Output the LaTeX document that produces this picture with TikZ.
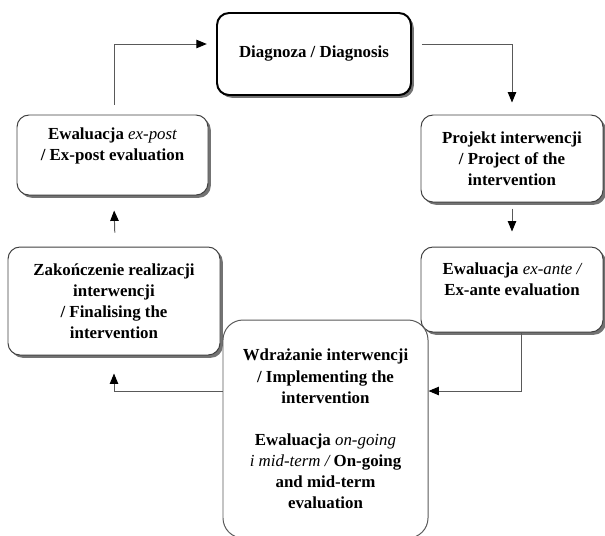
\documentclass[tikz,border=0pt]{standalone}
\usepackage{fontspec}
\setmainfont{Liberation Serif}
\usepackage{xcolor}
\usepackage{tikz}
\usetikzlibrary{arrows.meta,shadows}

\begin{document}
\begin{tikzpicture}[
    x=0.25mm, y=-0.25mm,
    stage/.style={
        rectangle,
        rounded corners=3mm,
        draw=black!75,
        fill=white,
        line width=0.7pt,
        inner sep=0pt,
        align=center,
        drop shadow={shadow xshift=0.7mm, shadow yshift=-0.7mm, fill=black!55, opacity=1},
        font=\fontsize{12}{15}\selectfont\bfseries
    },
    mainstage/.style={
        stage,
        draw=black,
        line width=1.4pt
    },
    roundstage/.style={
        rectangle,
        rounded corners=5mm,
        draw=black!65,
        fill=white,
        line width=0.7pt,
        inner sep=0pt,
        align=center,
        font=\fontsize{12}{15}\selectfont\bfseries
    },
    arrow/.style={
        ->,
        draw=black!65,
        line width=0.7pt,
        >={Triangle[length=2.6mm, width=2.1mm, color=black]}
    }
]
\useasboundingbox (0,0) rectangle (605,535);
\clip (0,0) rectangle (605,535);

% Stages
\node[mainstage, minimum width=48.5mm, minimum height=20.5mm] (diag) at (314,54) {Diagnoza / Diagnosis};
\node[stage, minimum width=47.75mm, minimum height=20mm] (expost) at (112.5,155)
    {Ewaluacja {\mdseries\itshape ex-post}\\ / Ex-post evaluation\\ \mbox{}};
\node[stage, minimum width=45.5mm, minimum height=21.75mm] (project) at (512,158.5)
    {Projekt interwencji\\ / Project of the\\ intervention};
\node[stage, minimum width=45.5mm, minimum height=21.25mm] (exante) at (512,289.5)
    {Ewaluacja {\mdseries\itshape ex-ante /}\\ Ex-ante evaluation\\ \mbox{}};
\node[stage, minimum width=53mm, minimum height=27mm] (finalise) at (114,301)
    {Zakończenie realizacji\\ interwencji\\ / Finalising the\\ intervention};
\node[roundstage, minimum width=51.25mm, minimum height=54.5mm] (implement) at (325.5,429)
    {Wdrażanie interwencji\\ / Implementing the\\ intervention\\[15pt]
     Ewaluacja {\mdseries\itshape on-going}\\ {\mdseries\itshape i mid-term /} On-going\\ and mid-term\\ evaluation};

% Cycle
\draw[arrow, shorten <=2.5mm, shorten >=2.3mm] ([xshift=0.6mm]expost.north) |- ([yshift=2.5mm]diag.west);
\draw[arrow, shorten <=2.5mm, shorten >=3mm] ([yshift=2.5mm]diag.east) -| (project.north);
\draw[arrow, shorten <=1.5mm, shorten >=3.75mm] (project.south) -- (exante.south |- exante.north);
\draw[arrow] ([xshift=2.25mm]exante.south) |- ([yshift=9.5mm]implement.east);
\draw[arrow, shorten >=4.5mm] ([yshift=9.5mm]implement.west) -| (finalise.south);
\draw[arrow, shorten <=3.5mm, shorten >=3.75mm] ([xshift=0.3mm]finalise.north) -- ([xshift=0.3mm]expost.south);

\end{tikzpicture}
\end{document}
